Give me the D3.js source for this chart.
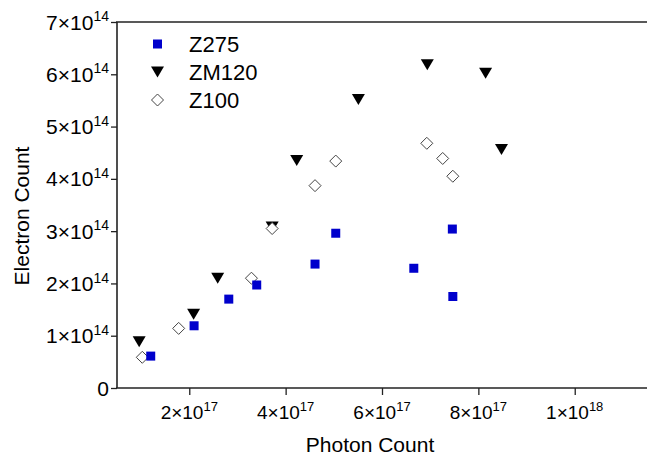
<!DOCTYPE html>
<html><head><meta charset="utf-8">
<script src="https://cdn.jsdelivr.net/npm/d3@7"></script>
<style>body{margin:0;background:#fff;} text{font-family:Arial,"Liberation Sans",sans-serif;fill:#000;}</style>
</head><body><svg id="c" width="647" height="459"></svg>
<script>
const seriesNames = ["Z275", "ZM120", "Z100"];
const z275X = [1.2e17, 2.1e17, 2.82e17, 3.4e17, 4.61e17, 5.04e17, 6.66e17, 7.46e17, 7.47e17];
const z275Y = [0.61e14, 1.19e14, 1.70e14, 1.97e14, 2.37e14, 2.96e14, 2.29e14, 3.04e14, 1.75e14];
const zm120X = [0.96e17, 2.09e17, 2.59e17, 3.72e17, 4.23e17, 5.51e17, 6.94e17, 8.15e17, 8.48e17];
const zm120Y = [0.885e14, 1.41e14, 2.10e14, 3.08e14, 4.35e14, 5.52e14, 6.18e14, 6.02e14, 4.56e14];
const z100X = [1.025e17, 1.78e17, 3.29e17, 3.72e17, 4.61e17, 5.04e17, 6.93e17, 7.26e17, 7.47e17];
const z100Y = [0.587e14, 1.14e14, 2.10e14, 3.05e14, 3.87e14, 4.34e14, 4.68e14, 4.39e14, 4.05e14];
const xMajorTicks = [2e17, 4e17, 6e17, 8e17, 1e18];
const xMinorTicks = [1e17, 3e17, 5e17, 7e17, 9e17, 1.1e18];
const yMajorTicks = [0, 1e14, 2e14, 3e14, 4e14, 5e14, 6e14, 7e14];
const yMinorTicks = [0.5e14, 1.5e14, 2.5e14, 3.5e14, 4.5e14, 5.5e14, 6.5e14];
const xTitle = "Photon Count";
const yTitle = "Electron Count";

const svg = d3.select("#c");
const x = d3.scaleLinear().domain([0.5e17, 1.15e18]).range([117, 647]);
const y = d3.scaleLinear().domain([0, 7e14]).range([388, 22]);
const axisColor = "#222";

function sciLabel(sel, v, supSize) {
  sel.text(null);
  if (v === 0) { sel.append("tspan").text("0"); return; }
  const e = Math.floor(Math.log10(v) + 1e-9);
  const m = Math.round(v / Math.pow(10, e));
  sel.append("tspan").text(m + "\u00d710");
  sel.append("tspan").attr("dy", "-0.6em").attr("font-size", supSize).text(e);
}

// x axis
const gx = svg.append("g").attr("transform", "translate(0,388)");
gx.call(d3.axisBottom(x).tickValues(xMinorTicks).tickSize(4).tickFormat(""));
gx.call(d3.axisBottom(x).tickValues(xMajorTicks).tickSize(7).tickFormat(""));
gx.selectAll(".domain").remove();
gx.selectAll("line").attr("stroke", axisColor).attr("stroke-width", 1.3);
svg.append("g").selectAll("text").data(xMajorTicks).enter().append("text")
  .attr("x", d => x(d)).attr("y", 419).attr("text-anchor", "middle").attr("font-size", "19px")
  .each(function(d) { sciLabel(d3.select(this), d, "13px"); });

// y axis
const gy = svg.append("g").attr("transform", "translate(117,0)");
gy.call(d3.axisLeft(y).tickValues(yMinorTicks).tickSize(3).tickFormat(""));
gy.call(d3.axisLeft(y).tickValues(yMajorTicks).tickSize(6).tickFormat(""));
gy.selectAll(".domain").remove();
gy.selectAll("line").attr("stroke", axisColor).attr("stroke-width", 1.3);
svg.append("g").selectAll("text").data(yMajorTicks).enter().append("text")
  .attr("x", 109).attr("y", d => y(d) + 7.5).attr("text-anchor", "end").attr("font-size", "21px")
  .each(function(d) { sciLabel(d3.select(this), d, "14px"); });

// frame lines (left, bottom, top)
svg.append("line").attr("x1", 117).attr("x2", 117).attr("y1", y(7e14)).attr("y2", y(0)).attr("stroke", axisColor).attr("stroke-width", 1.6);
svg.append("line").attr("x1", 116).attr("x2", 647).attr("y1", y(0)).attr("y2", y(0)).attr("stroke", axisColor).attr("stroke-width", 1.6);
svg.append("line").attr("x1", 116).attr("x2", 647).attr("y1", y(7e14)).attr("y2", y(7e14)).attr("stroke", axisColor).attr("stroke-width", 1.6);

// titles
svg.append("text").attr("x", 370).attr("y", 452).attr("text-anchor", "middle").attr("font-size", "21px").text(xTitle);
svg.append("text").attr("transform", "translate(29,216) rotate(-90)").attr("text-anchor", "middle").attr("font-size", "21px").text(yTitle);

// markers
const blue = "#0000cc";
function tri(g, cx, cy) {
  g.append("path").attr("d", `M${cx-6.5},${cy-5.5}L${cx+6.5},${cy-5.5}L${cx},${cy+5.5}Z`).attr("fill", "#000");
}
function diam(g, cx, cy) {
  g.append("path").attr("d", `M${cx},${cy-6}L${cx+6},${cy}L${cx},${cy+6}L${cx-6},${cy}Z`)
    .attr("fill", "#fff").attr("stroke", "#444").attr("stroke-width", 1);
}
function sq(g, cx, cy) {
  g.append("rect").attr("x", cx - 4.5).attr("y", cy - 4.5).attr("width", 9).attr("height", 9).attr("fill", blue);
}
const gm = svg.append("g");
d3.range(zm120X.length).forEach(i => tri(gm, x(zm120X[i]), y(zm120Y[i])));
d3.range(z100X.length).forEach(i => diam(gm, x(z100X[i]), y(z100Y[i])));
d3.range(z275X.length).forEach(i => sq(gm, x(z275X[i]), y(z275Y[i])));

// legend
const lg = svg.append("g");
const drawers = [sq, tri, diam];
const rowsY = [44, 72, 100];
seriesNames.forEach((n, i) => {
  drawers[i](lg, 157.5, rowsY[i]);
  lg.append("text").attr("x", 189).attr("y", rowsY[i] + 8).attr("font-size", "22px").text(n);
});
</script></body></html>
